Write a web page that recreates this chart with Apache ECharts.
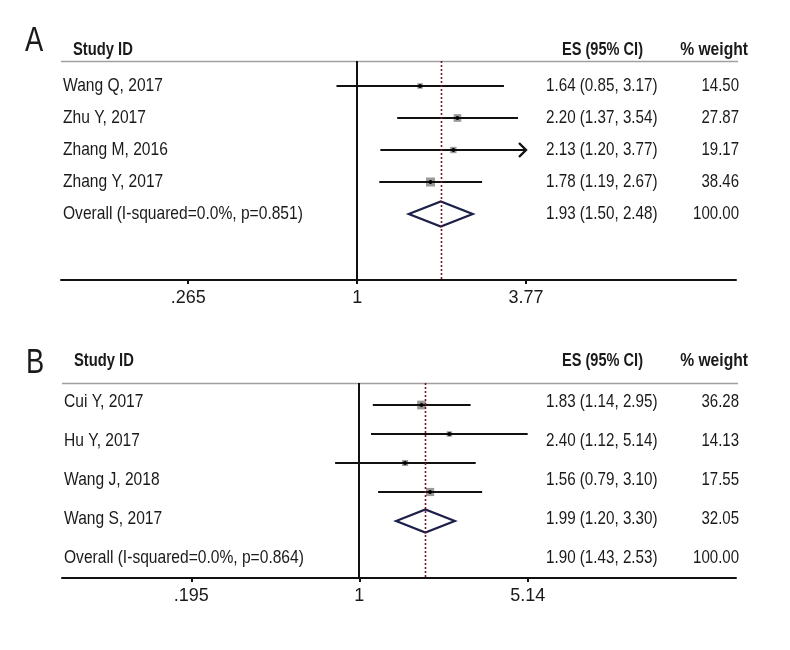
<!DOCTYPE html>
<html>
<head>
<meta charset="utf-8">
<script src="https://cdn.jsdelivr.net/npm/echarts@6/dist/echarts.min.js"></script>
<style>html,body{margin:0;padding:0;background:#fff}#c{width:790px;height:650px}</style>
</head>
<body>
<div id="c"></div>
<script>
// ---------- Panel A data ----------
const studiesA = ['Wang Q, 2017', 'Zhu Y, 2017', 'Zhang M, 2016', 'Zhang Y, 2017'];
const esA = [1.64, 2.20, 2.13, 1.78];
const loA = [0.85, 1.37, 1.20, 1.19];
const hiA = [3.17, 3.54, 3.77, 2.67];
const weightA = [14.50, 27.87, 19.17, 38.46];
const overallLabelA = 'Overall (I-squared=0.0%, p=0.851)';
const overallA = [1.93, 1.50, 2.48];           // ES, lower, upper
const ticksA = [0.265, 1, 3.77];
const tickLabelsA = ['.265', '1', '3.77'];

// ---------- Panel B data ----------
const studiesB = ['Cui Y, 2017', 'Hu Y, 2017', 'Wang J, 2018', 'Wang S, 2017'];
const esB = [1.83, 2.40, 1.56, 1.99];
const loB = [1.14, 1.12, 0.79, 1.20];
const hiB = [2.95, 5.14, 3.10, 3.30];
const weightB = [36.28, 14.13, 17.55, 32.05];
const overallLabelB = 'Overall (I-squared=0.0%, p=0.864)';
const overallB = [1.90, 1.43, 2.53];
const ticksB = [0.195, 1, 5.14];
const tickLabelsB = ['.195', '1', '5.14'];

const FONT = '"Liberation Sans", Arial, sans-serif';
const TXT = '#1a1a1a';
const f2 = v => v.toFixed(2);

function markData(es, lo, hi, w, ov, clipMax) {
  const d = es.map((e, i) => [Math.log(lo[i]), Math.log(e), Math.log(hi[i]), i + 1, w[i], 0, hi[i] >= clipMax ? 1 : 0]);
  d.push([Math.log(ov[1]), Math.log(ov[0]), Math.log(ov[2]), es.length + 1, 100, 1, 0]);
  return d;
}
function textRows(studies, es, lo, hi, w, ovLabel, ov) {
  const rows = studies.map((s, i) => ({ row: i + 1, label: s, es: f2(es[i]) + ' (' + f2(lo[i]) + ', ' + f2(hi[i]) + ')', w: f2(w[i]) }));
  rows.push({ row: studies.length + 1, label: ovLabel, es: f2(ov[0]) + ' (' + f2(ov[1]) + ', ' + f2(ov[2]) + ')', w: f2(100) });
  return rows;
}

function renderMarks(params, api) {
  const lo = api.value(0), es = api.value(1), hi = api.value(2), row = api.value(3);
  const w = api.value(4), kind = api.value(5), arrow = api.value(6);
  const pL = api.coord([lo, row]), pE = api.coord([es, row]), pH = api.coord([hi, row]);
  const y = Math.round(pE[1]);
  if (kind === 1) {
    const h = params.seriesIndex === 0 ? 12.5 : 11.5;
    return {
      type: 'polygon',
      shape: { points: [[pL[0], y], [pE[0], y - h], [pH[0], y], [pE[0], y + h]] },
      style: { fill: '#fff', stroke: '#1c1f4a', lineWidth: 2.2 }
    };
  }
  const s = 1.45 * Math.sqrt(w);
  const children = [
    { type: 'rect', shape: { x: pE[0] - s / 2, y: y - s / 2, width: s, height: s }, style: { fill: '#9a9a9a' } },
    { type: 'line', shape: { x1: pL[0], y1: y, x2: pH[0], y2: y }, style: { stroke: '#111', lineWidth: 2.2 } },
    { type: 'circle', shape: { cx: pE[0], cy: y, r: 1.9 }, style: { fill: '#000' } }
  ];
  if (arrow) {
    children.push({ type: 'polyline', shape: { points: [[pH[0] - 7, y - 7], [pH[0], y], [pH[0] - 7, y + 7]] },
      style: { stroke: '#111', lineWidth: 2.4, fill: null } });
  }
  return { type: 'group', children };
}

function renderRefs(params, api) {
  const cs = params.coordSys;
  const x0 = Math.round(api.coord([0, 1])[0]);
  const xo = Math.round(api.coord([api.value(0), 1])[0]) + 0.5;
  return {
    type: 'group',
    children: [
      { type: 'line', shape: { x1: x0, y1: cs.y, x2: x0, y2: cs.y + cs.height }, style: { stroke: '#111', lineWidth: 2 } },
      { type: 'line', shape: { x1: xo, y1: cs.y, x2: xo, y2: cs.y + cs.height }, style: { stroke: '#7a1520', lineWidth: 1.6, lineDash: [2, 2] } }
    ]
  };
}

function renderText(rows, headerOffset) {
  return function (params, api) {
    const cs = params.coordSys;
    const r = rows[params.dataIndex];
    const y = api.coord([0, r.row])[1];
    const ts = { font: '19px ' + FONT, fill: TXT, verticalAlign: 'middle' };
    const children = [
      { type: 'text', x: cs.x + 2, y: y, scaleX: 0.82, style: Object.assign({ text: r.label, align: 'left' }, ts) },
      { type: 'text', x: 546, y: y, scaleX: 0.8, style: Object.assign({ text: r.es, align: 'left' }, ts) },
      { type: 'text', x: cs.x + cs.width + 3, y: y, scaleX: 0.79, style: Object.assign({ text: r.w, align: 'right' }, ts) }
    ];
    if (params.dataIndex === 0) {
      const hy = cs.y - headerOffset;
      const hs = { font: 'bold 18px ' + FONT, fill: TXT, verticalAlign: 'middle' };
      children.push(
        { type: 'line', shape: { x1: cs.x, y1: cs.y + 0.5, x2: cs.x + cs.width + 2, y2: cs.y + 0.5 }, style: { stroke: '#a0a0a0', lineWidth: 1.5 } },
        { type: 'text', x: cs.x + 12, y: hy, scaleX: 0.82, style: Object.assign({ text: 'Study ID', align: 'left' }, hs) },
        { type: 'text', x: 562, y: hy, scaleX: 0.81, style: Object.assign({ text: 'ES (95% CI)', align: 'left' }, hs) },
        { type: 'text', x: 748, y: hy, scaleX: 0.87, style: Object.assign({ text: '% weight', align: 'right' }, hs) }
      );
    }
    return { type: 'group', children };
  };
}

function xAxisDef(gridIndex, min, max, ticks, labels) {
  const lv = ticks.map(Math.log);
  return {
    type: 'value', gridIndex, min, max,
    splitLine: { show: false },
    axisLine: { show: true, onZero: false, lineStyle: { color: '#111', width: 2 } },
    axisTick: { show: true, customValues: lv, length: 4, lineStyle: { color: '#111', width: 2 } },
    axisLabel: {
      customValues: lv, margin: 9, fontSize: 18, fontFamily: FONT, color: TXT,
      formatter: v => {
        let best = 0;
        lv.forEach((t, i) => { if (Math.abs(t - v) < Math.abs(lv[best] - v)) best = i; });
        return labels[best];
      }
    }
  };
}
function yAxisDef(gridIndex, min, max) {
  return { type: 'value', gridIndex, min, max, inverse: true, show: false, splitLine: { show: false } };
}

const rowsA = textRows(studiesA, esA, loA, hiA, weightA, overallLabelA, overallA);
const rowsB = textRows(studiesB, esB, loB, hiB, weightB, overallLabelB, overallB);

const option = {
  animation: false,
  backgroundColor: '#fff',
  grid: [
    { left: 61, top: 61, width: 675, height: 219 },
    { left: 62, top: 383, width: 674, height: 195 }
  ],
  xAxis: [
    xAxisDef(0, -2.3277, 2.9777, ticksA, tickLabelsA),
    xAxisDef(1, -2.8917, 3.6628, ticksB, tickLabelsB)
  ],
  yAxis: [
    yAxisDef(0, 0.219, 7.063),   // A marks
    yAxisDef(0, 0.219, 7.063),   // A text
    yAxisDef(1, 0.241, 6.965),   // B marks
    yAxisDef(1, 0.513, 5.513)    // B text
  ],
  graphic: [
    { type: 'text', x: 25, y: 24, scaleX: 0.78, style: { text: 'A', font: '35px ' + FONT, fill: TXT } },
    { type: 'text', x: 26, y: 346, scaleX: 0.78, style: { text: 'B', font: '35px ' + FONT, fill: TXT } }
  ],
  series: [
    { type: 'custom', xAxisIndex: 0, yAxisIndex: 0, z: 3, clip: false,
      data: markData(esA, loA, hiA, weightA, overallA, ticksA[2]), renderItem: renderMarks },
    { type: 'custom', xAxisIndex: 1, yAxisIndex: 2, z: 3, clip: false,
      data: markData(esB, loB, hiB, weightB, overallB, Infinity), renderItem: renderMarks },
    { type: 'custom', xAxisIndex: 0, yAxisIndex: 0, z: 4, data: [[Math.log(overallA[0]), 1]], renderItem: renderRefs },
    { type: 'custom', xAxisIndex: 1, yAxisIndex: 2, z: 4, data: [[Math.log(overallB[0]), 1]], renderItem: renderRefs },
    { type: 'custom', xAxisIndex: 0, yAxisIndex: 1, z: 1, clip: false,
      data: rowsA.map(r => [0, r.row]), renderItem: renderText(rowsA, 11) },
    { type: 'custom', xAxisIndex: 1, yAxisIndex: 3, z: 1, clip: false,
      data: rowsB.map(r => [0, r.row]), renderItem: renderText(rowsB, 22) }
  ]
};
const chart = echarts.init(document.getElementById('c'), null, { renderer: 'canvas' });
chart.setOption(option);
</script>
</body>
</html>
